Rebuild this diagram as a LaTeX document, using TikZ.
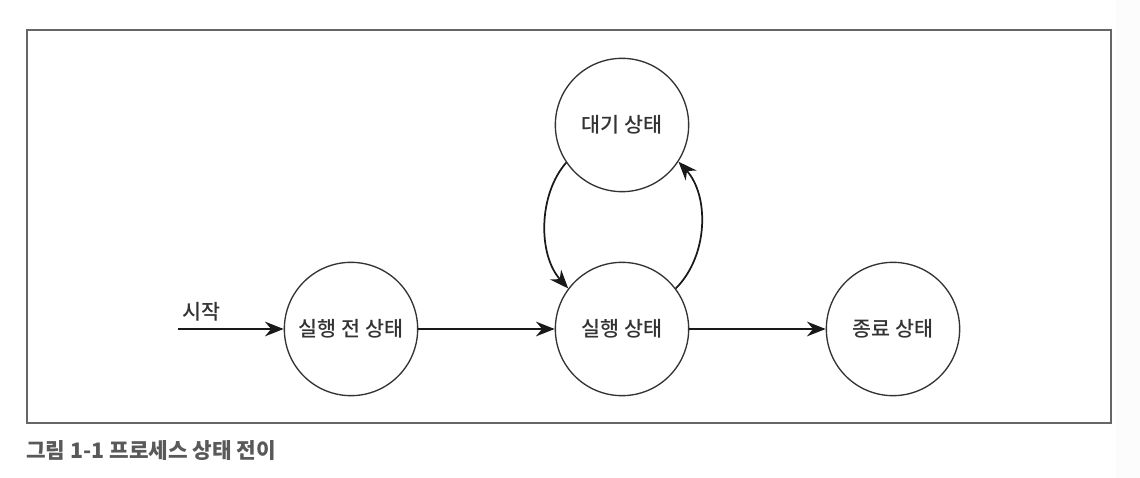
\documentclass[tikz,border=0pt]{standalone}
\usepackage{fontspec}
\setmainfont{Noto Sans CJK KR}
\newfontfamily\cjkmed{Noto Sans CJK KR Medium}
\usetikzlibrary{arrows.meta}
\begin{document}
\begin{tikzpicture}[x=0.75pt,y=-0.75pt,
  state/.style={circle,draw=black!80,line width=1pt,minimum size=100pt,inner sep=0pt,
    font=\cjkmed\fontsize{15.5}{18}\selectfont,text=black!80},
  conn/.style={-{Stealth[length=14pt,width=11pt]},line width=1.3pt,draw=black!90},
  lbl/.style={font=\cjkmed\fontsize{15.5}{18}\selectfont,text=black!80,inner sep=0pt}]
\useasboundingbox (0,0) rectangle (1140,478);
\fill[gray!2] (1116,0) rectangle (1140,478);
\draw[draw=black!60,line width=2pt] (27,30) rectangle (1111,423);
\node[state] (pre) at (351,329) {실행 전 상태};
\node[state] (run) at (622,329) {실행 상태};
\node[state] (wait) at (622,125) {대기 상태};
\node[state] (end) at (893,329) {종료 상태};
\coordinate (start) at (178,329);
\node[lbl,anchor=west] (startlbl) at (182,312) {시작};
\draw[conn] (start) -- (pre);
\draw[conn] (pre) -- (run);
\draw[conn] (run) -- (end);
\draw[conn] (wait.214) .. controls (538,195) and (538,255) .. (run.143);
\draw[conn] (run.37) .. controls (709,255) and (709,195) .. (wait.327);
\node[anchor=west,inner sep=0pt,font=\bfseries\fontsize{16}{18}\selectfont,text=black!65] (cap) at (26,451) {그림 1-1 프로세스 상태 전이};
\end{tikzpicture}
\end{document}
